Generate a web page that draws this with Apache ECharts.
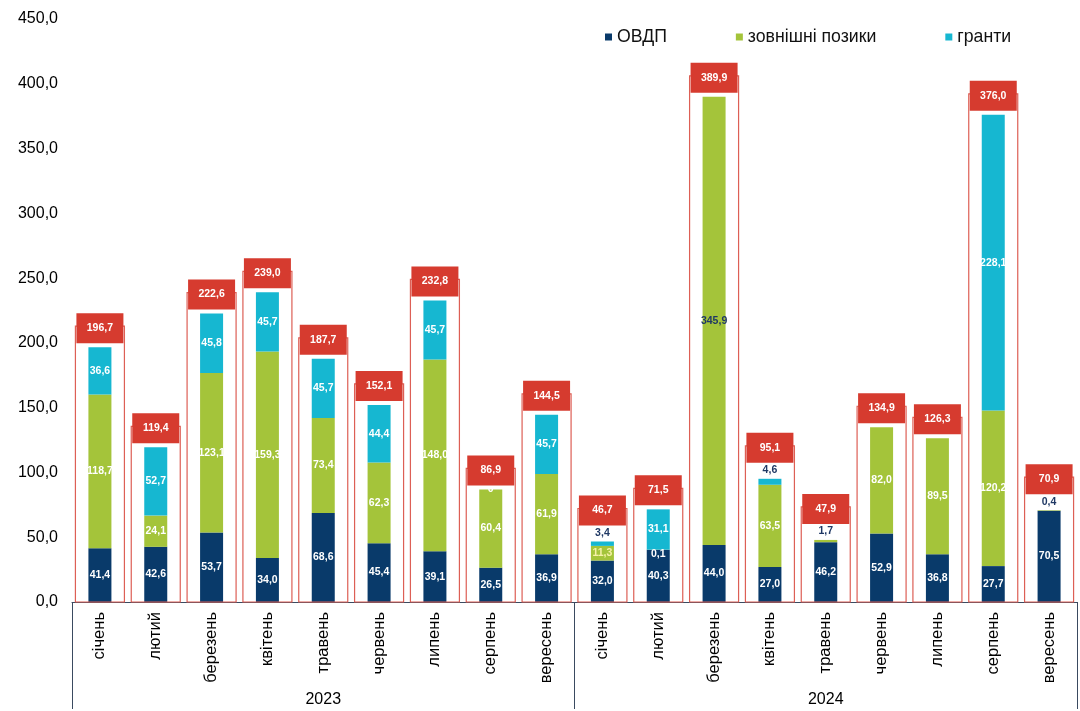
<!DOCTYPE html>
<html>
<head>
<meta charset="utf-8">
<script src="https://cdn.jsdelivr.net/npm/echarts@6/dist/echarts.min.js"></script>
<style>
html,body{margin:0;padding:0;background:#fff;}
#chart{width:1080px;height:711px;}
</style>
</head>
<body>
<div id="chart"></div>
<script>
// ---- data ----
const months = ['січень','лютий','березень','квітень','травень','червень','липень','серпень','вересень',
                'січень','лютий','березень','квітень','травень','червень','липень','серпень','вересень'];
const years = ['2023','2024'];
const seriesNames = ['ОВДП','зовнішні позики','гранти'];
const ovdp   = [41.4, 42.6, 53.7, 34.0, 68.6, 45.4, 39.1, 26.5, 36.9,
                32.0, 40.3, 44.0, 27.0, 46.2, 52.9, 36.8, 27.7, 70.5];
const loans  = [118.7, 24.1, 123.1, 159.3, 73.4, 62.3, 148.0, 60.4, 61.9,
                11.3, 0.1, 345.9, 63.5, 1.7, 82.0, 89.5, 120.2, 0.4];
const grants = [36.6, 52.7, 45.8, 45.7, 45.7, 44.4, 45.7, 0, 45.7,
                3.4, 31.1, null, 4.6, null, null, null, 228.1, null];
const yTicks = {min: 0, max: 450, interval: 50};

// ---- styles ----
const C_NAVY = '#093a6a', C_GREEN = '#a4c43a', C_CYAN = '#16b7d1', C_RED = '#d63b2f';
const FONT = 'Liberation Sans, Arial, sans-serif';
const fmt = v => v.toFixed(1).replace('.', ',');

const totals = months.map((_, i) => (ovdp[i] || 0) + (loans[i] || 0) + (grants[i] || 0));
// a small topmost segment gets its label above the bar
const SMALL = 6;
const topSeg = months.map((_, i) => {
  if (grants[i]) return grants[i] < SMALL ? 2 : -1;
  if (loans[i]) return loans[i] < SMALL ? 1 : -1;
  return -1;
});

const baseLabel = {
  show: true, position: 'inside', color: '#fff', fontWeight: 'bold',
  fontSize: 10.5, fontFamily: FONT,
  formatter: p => (p.value === null || p.value === undefined || p.value === '-') ? '' :
                  (p.value === 0 ? '0' : fmt(p.value))
};
const topLabel = {show: true, position: 'top', color: '#1f3864', distance: 3};

function mkData(arr, sIdx, overrides) {
  return arr.map((v, i) => {
    const o = {value: v === null ? '-' : v};
    if (topSeg[i] === sIdx) o.label = topLabel;
    if (overrides && overrides[i]) o.label = overrides[i];
    return o;
  });
}

const ovdpData = mkData(ovdp, 0);
const loansData = mkData(loans, 1, {
  9: {color: '#f6f2a8'},
  10: {offset: [0, 4]},
  11: {color: '#1f3864'}
});
const grantsData = mkData(grants, 2);

const chart = echarts.init(document.getElementById('chart'));
chart.setOption({
  animation: false,
  backgroundColor: '#fff',
  grid: {left: 72, right: 3, top: 19, bottom: 109, containLabel: false},
  legend: {
    data: seriesNames, top: 23, left: 600, itemGap: 69,
    icon: 'rect', itemWidth: 7, itemHeight: 7,
    textStyle: {fontSize: 17.7, color: '#111', fontFamily: FONT}
  },
  xAxis: [{
    type: 'category', data: months, position: 'bottom',
    axisLine: {show: true, lineStyle: {color: '#3a4a60', width: 1}},
    axisTick: {show: false},
    axisLabel: {rotate: 90, margin: 10, fontSize: 16.5, color: '#000', fontFamily: FONT, interval: 0}
  }, {
    type: 'category', data: years, position: 'bottom', offset: 0,
    axisLine: {show: false},
    axisTick: {show: true, length: 107, lineStyle: {color: '#3a4a60', width: 1}},
    axisLabel: {margin: 90, fontSize: 16, color: '#000', fontFamily: FONT},
    splitLine: {show: false}
  }],
  yAxis: {
    type: 'value', min: yTicks.min, max: yTicks.max, interval: yTicks.interval,
    axisLine: {show: false}, axisTick: {show: false}, splitLine: {show: false},
    axisLabel: {formatter: v => fmt(v), fontSize: 16, color: '#000', fontFamily: FONT, margin: 14}
  },
  series: [
    {name: seriesNames[0], type: 'bar', stack: 'a', barWidth: 23, data: ovdpData,
     itemStyle: {color: C_NAVY}, label: baseLabel, z: 3},
    {name: seriesNames[1], type: 'bar', stack: 'a', barWidth: 23, data: loansData,
     itemStyle: {color: C_GREEN}, label: baseLabel, z: 3},
    {name: seriesNames[2], type: 'bar', stack: 'a', barWidth: 23, data: grantsData,
     itemStyle: {color: C_CYAN}, label: baseLabel, z: 3},
    {
      name: 'total', type: 'custom', z: 5,
      data: totals.map((t, i) => [i, t, topSeg[i] >= 0 ? 1 : 0]),
      renderItem: function (params, api) {
        const idx = api.value(0), tot = api.value(1), raised = api.value(2);
        const top = api.coord([idx, tot]);
        const base = api.coord([idx, 0]);
        const ow = 49, lw = 47, lh = 30;
        const lift = raised ? 31 : 19;
        const oTop = top[1] - lift - 2;
        return {
          type: 'group',
          children: [
            {type: 'rect', shape: {x: top[0] - ow / 2, y: oTop, width: ow, height: base[1] - oTop},
             style: {fill: 'none', stroke: '#dd5f55', lineWidth: 1.2}},
            {type: 'rect', shape: {x: top[0] - lw / 2, y: top[1] - lift - lh / 2, width: lw, height: lh},
             style: {fill: C_RED}},
            {type: 'text', x: top[0], y: top[1] - lift,
             style: {text: fmt(tot), fill: '#fff', fontWeight: 'bold', fontSize: 10.5,
                     fontFamily: FONT, align: 'center', verticalAlign: 'middle'}}
          ]
        };
      }
    }
  ]
});
</script>
</body>
</html>
